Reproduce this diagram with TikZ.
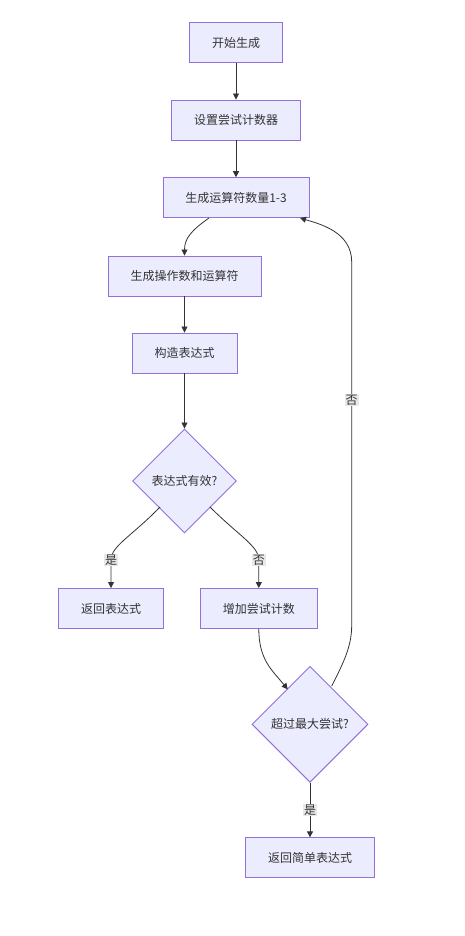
\documentclass[tikz,border=0pt]{standalone}
\usepackage{fontspec}
\setmainfont{Noto Sans CJK SC}
\usetikzlibrary{shapes.geometric,arrows.meta}
\definecolor{nodefill}{HTML}{ECECFF}
\definecolor{nodeline}{HTML}{9370DB}
\definecolor{edgeline}{HTML}{333333}
\definecolor{lblbg}{HTML}{E8E8E8}
\definecolor{txt}{HTML}{333333}
\tikzset{
  box/.style={draw=nodeline, fill=nodefill, line width=0.9pt, rectangle, inner sep=0pt, text=txt, font=\fontsize{12}{14}\selectfont},
  dia/.style={draw=nodeline, fill=nodefill, line width=0.9pt, diamond, inner sep=0pt, text=txt, font=\fontsize{12}{14}\selectfont},
  edge/.style={draw=edgeline, line width=0.8pt, -{Triangle[length=6pt,width=6pt]}},
  lbl/.style={fill=lblbg, text=txt, inner sep=1pt, font=\fontsize{12}{14}\selectfont}
}
\begin{document}
\begin{tikzpicture}[x=1pt,y=-1pt]
\useasboundingbox (0,0) rectangle (464,936);
\node[box, minimum width=93pt, minimum height=40pt] (n1) at (236,42.5) {开始生成};
\node[box, minimum width=129pt, minimum height=40pt] (n2) at (236,120) {设置尝试计数器};
\node[box, minimum width=146pt, minimum height=40pt] (n3) at (236,197.7) {生成运算符数量1-3};
\node[box, minimum width=153pt, minimum height=40pt] (n4) at (184.5,276) {生成操作数和运算符};
\node[box, minimum width=105pt, minimum height=40pt] (n5) at (184.5,353) {构造表达式};
\node[dia, minimum width=104pt, minimum height=104pt] (d1) at (184.5,481) {表达式有效?};
\node[box, minimum width=105pt, minimum height=40pt] (n6) at (111,608.5) {返回表达式};
\node[box, minimum width=117pt, minimum height=40pt] (n7) at (258.8,608.5) {增加尝试计数};
\node[dia, minimum width=116pt, minimum height=116pt] (d2) at (310,724.3) {超过最大尝试?};
\node[box, minimum width=129pt, minimum height=40pt] (n8) at (310,857.8) {返回简单表达式};

\coordinate (c3b) at (209,218);
\coordinate (c3r) at (300,218);
\coordinate (d1l) at (160,507);
\coordinate (d1r) at (210,507);
\coordinate (l1) at (111,560);
\coordinate (l2) at (258.8,560);
\coordinate (d2tl) at (287.7,689.3);
\coordinate (d2tr) at (331.7,686);
\coordinate (n7b) at (258.8,628.5);

\draw[edge] (n1) -- (n2);
\draw[edge] (n2) -- (n3);
\draw[edge] (c3b) .. controls (192,230) and (184.5,238) .. (n4.north);
\draw[edge] (n4) -- (n5);
\draw[edge] (n5) -- (d1);
\draw[edge] (d1l) .. controls (132,536) and (111,546) .. (l1) -- (n6.north);
\draw[edge] (d1r) .. controls (239,536) and (258.8,546) .. (l2) -- (n7.north);
\node[lbl] (t1) at (l1) {是};
\node[lbl] (t2) at (l2) {否};
\draw[edge] (n7b) .. controls (258.8,660) and (272,670) .. (d2tl);
\draw[edge] (d2) -- node[lbl, pos=0.5] {是} (n8);
\draw[edge] (d2tr) .. controls (345,660) and (351.7,645) .. (351.7,625) -- node[lbl, pos=0.62] {否} (351.7,262) .. controls (351.7,232) and (320,224) .. (c3r);
\end{tikzpicture}
\end{document}
